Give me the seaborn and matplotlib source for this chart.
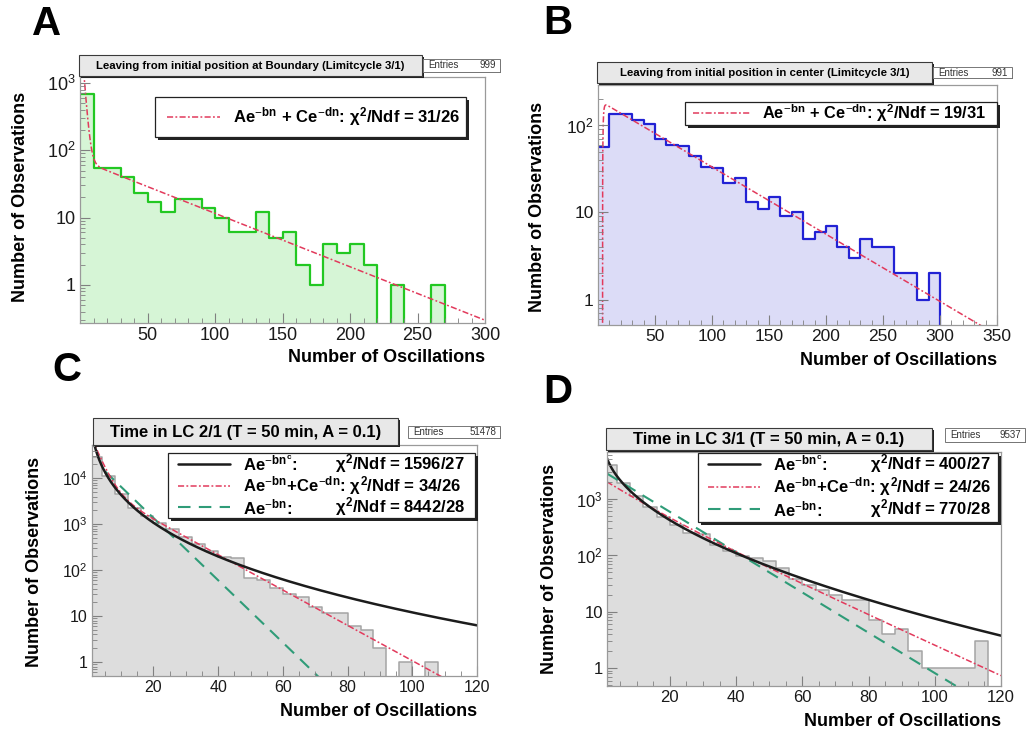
import numpy as np
import pandas as pd
import matplotlib
matplotlib.use("Agg")
import matplotlib.pyplot as plt
import matplotlib.ticker as mticker
from matplotlib.patches import Rectangle
from matplotlib.lines import Line2D
import seaborn as sns

sns.set_style("white")
plt.rcParams['font.family'] = ['Liberation Sans', 'DejaVu Sans']
plt.rcParams['text.color'] = 'black'
plt.rcParams['axes.axisbelow'] = False
plt.rcParams['mathtext.fontset'] = 'custom'
plt.rcParams['mathtext.rm'] = 'Liberation Sans'
plt.rcParams['mathtext.it'] = 'Liberation Sans:bold'
plt.rcParams['mathtext.bf'] = 'Liberation Sans:bold'
plt.rcParams['mathtext.sf'] = 'Liberation Sans'

# ---------------- data ----------------
# Panel A: leaving from boundary, bins of 10 oscillations (0..300)
a_bin_edges = np.arange(0, 310, 10)
a_counts = [684, 54, 54, 40, 23, 17, 12, 19, 19, 14, 10, 6, 6, 12, 5, 6, 2, 1, 4, 3,
            4, 2, 0, 1, 0, 0, 1, 0, 0, 0]
a_fit_double = [7260, 0.6, 72, 0.0183]          # A, b, C, d
a_entries = "999"
a_title = "Leaving from initial position at Boundary (Limitcycle 3/1)"
a_chi = "31/26"

# Panel B: leaving from center, bins of 10 (0..350)
b_bin_edges = np.arange(0, 360, 10)
b_counts = [57, 136, 134, 114, 104, 69, 60, 58, 44, 33, 32, 22, 25, 13, 11, 15, 9, 10, 5, 6,
            7, 4, 3, 5, 4, 4, 2, 2, 1, 2, 0, 0, 0, 0, 0]
b_fit_double = [-73500, 1.5, 196, 0.01776]
b_entries = "991"
b_title = "Leaving from initial position in center (Limitcycle 3/1)"
b_chi = "19/31"

# Panel C: time in LC 2/1, bins of 4 (0..120)
c_bin_edges = np.arange(0, 124, 4)
c_counts = [28500, 11500, 4500, 2300, 1500, 1050, 780, 540, 380, 260, 190, 180, 68, 62, 42,
            30, 26, 16, 12, 12, 6, 5, 2, 0, 1, 0, 1, 0, 0, 0]
c_fit_stretched = [2.88e6, 3.41, 0.28]          # A, b, c
c_fit_double = [99000, 0.407, 7500, 0.0885]
c_fit_single = [31000, 0.156]
c_entries = "51478"
c_title = "Time in LC 2/1 (T = 50 min, A = 0.1)"
c_chis = ["1596/27", "34/26", "8442/28"]

# Panel D: time in LC 3/1, bins of 4 (0..120)
d_bin_edges = np.arange(0, 124, 4)
d_counts = [3900, 1900, 1100, 700, 480, 340, 250, 240, 150, 120, 95, 90, 78, 60, 38,
            30, 24, 20, 16, 16, 7, 4, 5, 2, 1, 1, 1, 1, 3, 0]
d_fit_stretched = [10700, 0.7265, 0.5]
d_fit_double = [923, 0.11, 1230, 0.0619]
d_fit_single = [3020, 0.0822]
d_entries = "9537"
d_title = "Time in LC 3/1 (T = 50 min, A = 0.1)"
d_chis = ["400/27", "24/26", "770/28"]

# ---------------- styles ----------------
W, H = 1027, 738
RED = '#e23a5c'
RED_LS = (0, (4, 1.5, 1.2, 1.5))
GREEN = '#2f9c78'
GREEN_LS = (0, (6, 4))
BLACK = '#1c1c1c'

fig = plt.figure(figsize=(W / 100, H / 100), dpi=100)


def fx(x):
    return x / W


def fy(y):
    return 1 - y / H


def make_ax(l, r, t, b):
    return fig.add_axes([fx(l), fy(b), (r - l) / W, (b - t) / H])


def model_double(n, p):
    return p[0] * np.exp(-p[1] * n) + p[2] * np.exp(-p[3] * n)


def model_stretched(n, p):
    return p[0] * np.exp(-p[1] * n ** p[2])


def model_single(n, p):
    return p[0] * np.exp(-p[1] * n)


def draw_hist(ax, edges, counts, fill, edge, lw):
    edges = np.asarray(edges, dtype=float)
    centers = (edges[:-1] + edges[1:]) / 2
    df = pd.DataFrame({"n": centers, "count": counts})
    bl = [float(e) for e in edges]
    sns.histplot(data=df, x="n", weights="count", bins=bl, element="step",
                 fill=True, color=fill, alpha=1, linewidth=0, ax=ax)
    sns.histplot(data=df, x="n", weights="count", bins=bl, element="step",
                 fill=False, color=edge, linewidth=lw, ax=ax)


def draw_curve(ax, n, y, color, ls, lw):
    sns.lineplot(x=n, y=y, ax=ax, color=color, linestyle=ls, linewidth=lw,
                 estimator=None, sort=False)


def yfmt(v, pos):
    if v <= 0:
        return ''
    k = int(round(np.log10(v)))
    if abs(v - 10 ** k) > 1e-6 * v:
        return ''
    if k == 0:
        return '1'
    if k == 1:
        return '10'
    return r'$\mathregular{10^{%d}}$' % k


def style_ax(ax, xlim, ylim, xmaj, xmin, fs):
    ax.set_axisbelow(False)
    ax.set_yscale('log')
    ax.set_xlim(*xlim)
    ax.set_ylim(*ylim)
    ax.set_xticks(xmaj)
    ax.set_xticklabels([str(v) for v in xmaj])
    ax.xaxis.set_minor_locator(mticker.MultipleLocator(xmin))
    ax.yaxis.set_major_locator(mticker.LogLocator(base=10))
    ax.yaxis.set_minor_locator(mticker.LogLocator(base=10, subs=np.arange(2, 10)))
    ax.yaxis.set_major_formatter(mticker.FuncFormatter(yfmt))
    ax.yaxis.set_minor_formatter(mticker.NullFormatter())
    ax.tick_params(which='both', direction='in', color='#808080', bottom=True, left=True,
                   top=False, right=False, labelsize=fs, labelcolor='#1a1a1a', pad=3)
    ax.tick_params(which='major', length=7, width=0.8)
    ax.tick_params(which='minor', length=3.5, width=0.6)
    for s in ax.spines.values():
        s.set_color('#9a9a9a')
        s.set_linewidth(0.9)
        s.set_zorder(3)
    ax.set_xlabel('')
    ax.set_ylabel('')
    ax.set_facecolor('white')


def pave(x0, y0, x1, y1, fc, ec='#3a3a3a', lw=0.8, shadow=2.0):
    if shadow:
        fig.add_artist(Rectangle((fx(x0 + shadow), fy(y1 + shadow)), (x1 - x0) / W, (y1 - y0) / H,
                                 transform=fig.transFigure, fc='#222222', ec='none', zorder=5))
    fig.add_artist(Rectangle((fx(x0), fy(y1)), (x1 - x0) / W, (y1 - y0) / H,
                             transform=fig.transFigure, fc=fc, ec=ec, lw=lw, zorder=6))


def ftext(x, y, s, **kw):
    kw.setdefault('va', 'center')
    kw.setdefault('zorder', 7)
    kw.setdefault('color', 'black')
    fig.text(fx(x), fy(y), s, **kw)


def fline(x0, x1, y, **kw):
    fig.add_artist(Line2D([fx(x0), fx(x1)], [fy(y), fy(y)], transform=fig.transFigure,
                          zorder=7, **kw))


def labels(r, ylab_x, ylab_y, xlab_y, fs):
    ftext(r, xlab_y, 'Number of Oscillations', ha='right', fontsize=fs, fontweight='bold')
    ftext(ylab_x, ylab_y, 'Number of Observations', ha='center', rotation=90,
          fontsize=fs, fontweight='bold')


def title_box(x0, y0, x1, y1, text, fs, ex0, ey0, ex1, ey1, entries, efs):
    pave(x0, y0, x1, y1, '#e8e8e8', shadow=1.5)
    ftext((x0 + x1) / 2, (y0 + y1) / 2 + 0.5, text, ha='center', fontsize=fs, fontweight='bold')
    pave(ex0, ey0, ex1, ey1, 'white', ec='#777777', lw=0.7, shadow=1.0)
    ftext(ex0 + 5, (ey0 + ey1) / 2, 'Entries', ha='left', fontsize=efs, color='#333333')
    ftext(ex1 - 4, (ey0 + ey1) / 2, entries, ha='right', fontsize=efs, color='#333333')


# ---------------- Panel A ----------------
axA = make_ax(80, 485, 77, 323)
draw_hist(axA, a_bin_edges, a_counts, '#d6f5d6', '#22c822', 1.6)
nA = np.linspace(2.0, 300, 1500)
draw_curve(axA, nA, model_double(nA, a_fit_double), RED, RED_LS, 1.1)
style_ax(axA, (0, 300), (0.27, 1230), [50, 100, 150, 200, 250, 300], 10, 13)
labels(485, 21, 197, 358, 13)
title_box(79, 55, 422, 76, a_title, 8.2, 423, 59, 500, 72, a_entries, 7)
pave(155, 97, 466, 137, 'white', ec='#222222', lw=0.9, shadow=3)
fline(167, 220, 117, color=RED, linestyle=RED_LS, linewidth=1.1)
ftext(233, 117, r'$Ae^{-bn}$ + $Ce^{-dn}$: $\chi^{\mathbf{2}}$/Ndf = ' + a_chi,
      ha='left', fontsize=12, fontweight='bold')
ftext(47, 24, 'A', ha='center', fontsize=29, fontweight='bold')

# ---------------- Panel B ----------------
axB = make_ax(598, 997, 85, 325)
draw_hist(axB, b_bin_edges, b_counts, '#dcdcf7', '#2222d4', 1.6)
nB = np.linspace(3.9, 350, 2000)
draw_curve(axB, nB, np.clip(model_double(nB, b_fit_double), 1e-3, None), RED, RED_LS, 1.1)
style_ax(axB, (0, 350), (0.51, 290), [50, 100, 150, 200, 250, 300, 350], 10, 12.5)
labels(997, 537, 207, 361, 13)
title_box(597, 62, 932, 83, b_title, 8.2, 933, 67, 1012, 78, b_entries, 7)
pave(685, 102, 997, 125, 'white', ec='#222222', lw=0.9, shadow=3)
fline(693, 750, 113, color=RED, linestyle=RED_LS, linewidth=1.1)
ftext(762, 113, r'$Ae^{-bn}$ + $Ce^{-dn}$: $\chi^{\mathbf{2}}$/Ndf = ' + b_chi,
      ha='left', fontsize=11.8, fontweight='bold')
ftext(558, 23, 'B', ha='center', fontsize=29, fontweight='bold')

# ---------------- Panel C ----------------
axC = make_ax(92, 477, 445, 676)
draw_hist(axC, c_bin_edges, c_counts, '#dddddd', '#a4a4a4', 1.1)
nC = np.linspace(1.0, 120, 1500)
nCg = np.linspace(5.0, 120, 1500)
draw_curve(axC, nCg, model_single(nCg, c_fit_single), GREEN, GREEN_LS, 1.5)
draw_curve(axC, nC, model_double(nC, c_fit_double), RED, RED_LS, 1.1)
draw_curve(axC, nC, model_stretched(nC, c_fit_stretched), BLACK, '-', 1.8)
style_ax(axC, (1, 120), (0.5, 53000), [20, 40, 60, 80, 100, 120], 5, 11.5)
labels(477, 35, 562, 711, 13)
title_box(93, 418, 398, 445, c_title, 12, 408, 426, 500, 438, c_entries, 7)
pave(168, 453, 475, 518, 'white', ec='#222222', lw=0.9, shadow=3)
rowsC = [464, 486, 507]
fline(178, 230, rowsC[0], color=BLACK, linewidth=1.8)
fline(178, 230, rowsC[1], color=RED, linestyle=RED_LS, linewidth=1.1)
fline(178, 230, rowsC[2], color=GREEN, linestyle=GREEN_LS, linewidth=1.5)
ftext(243, rowsC[0], r'$Ae^{-bn^{c}}$:', ha='left', fontsize=12, fontweight='bold')
ftext(335, rowsC[0], r'$\chi^{\mathbf{2}}$/Ndf = ' + c_chis[0], ha='left', fontsize=12, fontweight='bold')
ftext(243, rowsC[1], r'$Ae^{-bn}$+$Ce^{-dn}$: $\chi^{\mathbf{2}}$/Ndf = ' + c_chis[1], ha='left',
      fontsize=12, fontweight='bold')
ftext(243, rowsC[2], r'$Ae^{-bn}$:', ha='left', fontsize=12, fontweight='bold')
ftext(335, rowsC[2], r'$\chi^{\mathbf{2}}$/Ndf = ' + c_chis[2], ha='left', fontsize=12, fontweight='bold')
ftext(67, 370, 'C', ha='center', fontsize=29, fontweight='bold')

# ---------------- Panel D ----------------
axD = make_ax(607, 1001, 452, 686)
draw_hist(axD, d_bin_edges, d_counts, '#dddddd', '#a4a4a4', 1.1)
nD = np.linspace(1.0, 120, 1500)
draw_curve(axD, nD, model_single(nD, d_fit_single), GREEN, GREEN_LS, 1.5)
draw_curve(axD, nD, model_double(nD, d_fit_double), RED, RED_LS, 1.1)
draw_curve(axD, nD, model_stretched(nD, d_fit_stretched), BLACK, '-', 1.8)
style_ax(axD, (1, 120), (0.48, 6700), [20, 40, 60, 80, 100, 120], 5, 12)
labels(1001, 549, 569, 721, 13)
title_box(606, 428, 932, 450, d_title, 12, 945, 428, 1025, 442, d_entries, 7)
pave(698, 453, 998, 522, 'white', ec='#222222', lw=0.9, shadow=3)
rowsD = [464, 487, 509]
fline(708, 760, rowsD[0], color=BLACK, linewidth=1.8)
fline(708, 760, rowsD[1], color=RED, linestyle=RED_LS, linewidth=1.1)
fline(708, 760, rowsD[2], color=GREEN, linestyle=GREEN_LS, linewidth=1.5)
ftext(773, rowsD[0], r'$Ae^{-bn^{c}}$:', ha='left', fontsize=12, fontweight='bold')
ftext(870, rowsD[0], r'$\chi^{\mathbf{2}}$/Ndf = ' + d_chis[0], ha='left', fontsize=12, fontweight='bold')
ftext(773, rowsD[1], r'$Ae^{-bn}$+$Ce^{-dn}$: $\chi^{\mathbf{2}}$/Ndf = ' + d_chis[1], ha='left',
      fontsize=12, fontweight='bold')
ftext(773, rowsD[2], r'$Ae^{-bn}$:', ha='left', fontsize=12, fontweight='bold')
ftext(870, rowsD[2], r'$\chi^{\mathbf{2}}$/Ndf = ' + d_chis[2], ha='left', fontsize=12, fontweight='bold')
ftext(558, 392, 'D', ha='center', fontsize=29, fontweight='bold')

fig.savefig('out.png', dpi=100, facecolor='white')
